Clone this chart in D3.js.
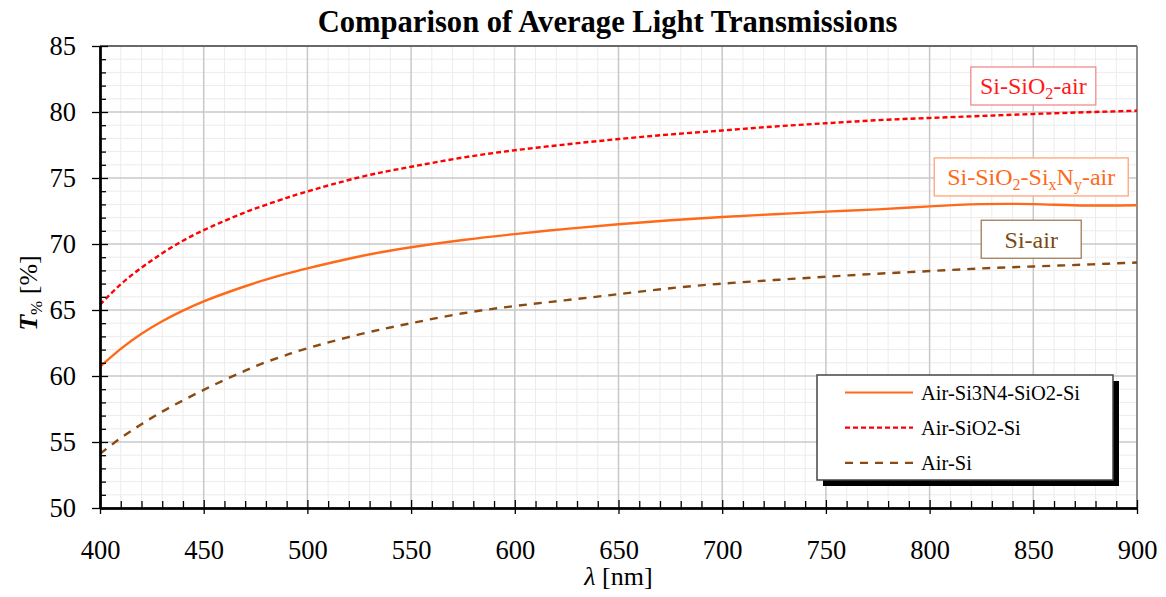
<!DOCTYPE html>
<html>
<head>
<meta charset="utf-8">
<script src="https://cdn.jsdelivr.net/npm/d3@7"></script>
<style>
  html, body { margin: 0; padding: 0; background: #fff; }
  svg { display: block; }
  text { font-family: "Liberation Serif", "Times New Roman", serif; }
</style>
</head>
<body>
<svg id="chart" width="1166" height="597"></svg>
<script>
// Wavelength samples (nm)
const wavelengths = [400, 410, 420, 430, 440, 450, 460, 470, 480, 490, 500,
  525, 550, 575, 600, 625, 650, 675, 700, 725, 750, 775, 800, 825, 850, 875, 900];

// Average transmission (%) for each stack
const airSi3N4SiO2Si = [60.7, 62.05, 63.2, 64.15, 64.95, 65.65, 66.25, 66.8, 67.3, 67.75, 68.15,
  69.05, 69.75, 70.3, 70.75, 71.15, 71.5, 71.8, 72.05, 72.25, 72.45, 72.62, 72.85, 73.02, 73.02, 72.92, 72.93];
const airSiO2Si = [65.4, 66.95, 68.2, 69.3, 70.25, 71.05, 71.75, 72.4, 72.97, 73.5, 73.98,
  75.05, 75.85, 76.55, 77.1, 77.55, 77.95, 78.3, 78.6, 78.9, 79.15, 79.38, 79.55, 79.7, 79.85, 79.98, 80.1];
const airSi = [54.1, 55.3, 56.35, 57.3, 58.15, 58.95, 59.7, 60.4, 61.05, 61.6, 62.1,
  63.15, 64.0, 64.75, 65.3, 65.75, 66.2, 66.65, 67.0, 67.27, 67.52, 67.75, 67.95, 68.15, 68.3, 68.44, 68.6];

const seriesNames = ["Air-Si3N4-SiO2-Si", "Air-SiO2-Si", "Air-Si"];

// Axis ticks
const xTicks = [400, 450, 500, 550, 600, 650, 700, 750, 800, 850, 900];
const yTicks = [50, 55, 60, 65, 70, 75, 80, 85];

const svg = d3.select("#chart");
const W = 1166, H = 597;
const m = { left: 100, right: 29, top: 46, bottom: 89 };

svg.append("rect").attr("width", W).attr("height", H).attr("fill", "#fff");

const x = d3.scaleLinear().domain([400, 900]).range([m.left, W - m.right]);
const y = d3.scaleLinear().domain([50, 85]).range([H - m.bottom, m.top]);

const xMinor = d3.range(400, 901, 10);
const yMinor = d3.range(50, 85.01, 1);

const grid = svg.append("g");
// minor grid
grid.selectAll(".vx").data(xMinor.filter(v => v % 50 !== 0)).join("line")
  .attr("x1", d => x(d)).attr("x2", d => x(d))
  .attr("y1", y(50)).attr("y2", y(85))
  .attr("stroke", "#ececec").attr("stroke-width", 1);
grid.selectAll(".hy").data(yMinor.filter(v => v % 5 !== 0)).join("line")
  .attr("x1", x(400)).attr("x2", x(900))
  .attr("y1", d => y(d)).attr("y2", d => y(d))
  .attr("stroke", "#ececec").attr("stroke-width", 1);
// major grid
svg.append("g").selectAll("line").data(xTicks).join("line")
  .attr("x1", d => x(d)).attr("x2", d => x(d))
  .attr("y1", y(50)).attr("y2", y(85))
  .attr("stroke", "#c8c8c8").attr("stroke-width", 1.5);
svg.append("g").selectAll("line").data(yTicks).join("line")
  .attr("x1", x(400)).attr("x2", x(900))
  .attr("y1", d => y(d)).attr("y2", d => y(d))
  .attr("stroke", "#c8c8c8").attr("stroke-width", 1.5);

// frame top / right
svg.append("line").attr("x1", x(400)).attr("x2", x(900)).attr("y1", y(85)).attr("y2", y(85))
  .attr("stroke", "#444").attr("stroke-width", 1.5);
svg.append("line").attr("x1", x(900)).attr("x2", x(900)).attr("y1", y(85)).attr("y2", y(50))
  .attr("stroke", "#777").attr("stroke-width", 1.5);

// curves
const series = [
  { name: seriesNames[0], values: airSi3N4SiO2Si, color: "#ff6a1a", dash: null },
  { name: seriesNames[1], values: airSiO2Si, color: "#ff0000", dash: "5,3" },
  { name: seriesNames[2], values: airSi, color: "#8b4a12", dash: "8,7" }
];

const line = d3.line().x(d => x(d[0])).y(d => y(d[1])).curve(d3.curveNatural);

series.forEach(s => {
  svg.append("path")
    .datum(wavelengths.map((w, i) => [w, s.values[i]]))
    .attr("fill", "none")
    .attr("stroke", s.color)
    .attr("stroke-width", 2.4)
    .attr("stroke-dasharray", s.dash)
    .attr("d", line);
});

// axes
const tickFont = "26.5px";
const yAxis = svg.append("g").attr("transform", `translate(${x(400)},0)`)
  .call(d3.axisLeft(y).tickValues(yTicks).tickSize(8).tickSizeOuter(0).tickPadding(16));
const yIn = svg.append("g").attr("transform", `translate(${x(400)},0)`)
  .call(d3.axisLeft(y).tickValues(yTicks).tickSize(-8).tickSizeOuter(0).tickFormat(""));
const yMin = svg.append("g").attr("transform", `translate(${x(400)},0)`)
  .call(d3.axisLeft(y).tickValues(yMinor.filter(v => v % 5 !== 0)).tickSize(-6).tickSizeOuter(0).tickFormat(""));

const xAxis = svg.append("g").attr("transform", `translate(0,${y(50)})`)
  .call(d3.axisBottom(x).tickValues(xTicks).tickSize(6).tickSizeOuter(0).tickPadding(26));
const xIn = svg.append("g").attr("transform", `translate(0,${y(50)})`)
  .call(d3.axisBottom(x).tickValues(xTicks).tickSize(-8).tickSizeOuter(0).tickFormat(""));
const xMin = svg.append("g").attr("transform", `translate(0,${y(50)})`)
  .call(d3.axisBottom(x).tickValues(xMinor.filter(v => v % 50 !== 0)).tickSize(-7).tickSizeOuter(0).tickFormat(""));

[yAxis, yIn, yMin, xAxis, xIn, xMin].forEach(g => {
  g.selectAll(".tick line").attr("stroke", "#000").attr("stroke-width", 1.3);
  g.select(".domain").attr("stroke", "#000").attr("stroke-width", 2);
  g.selectAll("text").attr("font-family", "Liberation Serif").attr("font-size", tickFont).attr("fill", "#000");
});

// title
svg.append("text")
  .attr("x", (x(400) + x(900)) / 2 - 11).attr("y", 31.5)
  .attr("text-anchor", "middle")
  .attr("font-weight", "bold").attr("font-size", "30.6px")
  .text("Comparison of Average Light Transmissions");

// x axis title
const xt = svg.append("text")
  .attr("x", (x(400) + x(900)) / 2).attr("y", 585)
  .attr("text-anchor", "middle").attr("font-size", "26px");
xt.append("tspan").attr("font-style", "italic").text("λ");
xt.append("tspan").text(" [nm]");

// y axis title
const yt = svg.append("text")
  .attr("transform", `translate(36.5,293) rotate(-90)`)
  .attr("text-anchor", "middle").attr("font-size", "26px");
yt.append("tspan").attr("font-style", "italic").attr("font-weight", "bold").text("T");
yt.append("tspan").attr("font-size", "17px").attr("dy", 5).text("%");
yt.append("tspan").attr("dy", -5).text(" [%]");

// curve annotations
const notes = [
  { at: [850, 81.97], w: 125, color: "#ff1a1a", border: "#f28b8b",
    parts: [["Si-SiO", 0], ["2", 1], ["-air", 0]] },
  { at: [849, 75.08], w: 194, color: "#ff6a1a", border: "#ffa477",
    parts: [["Si-SiO", 0], ["2", 1], ["-Si", 0], ["x", 1], ["N", 0], ["y", 1], ["-air", 0]] },
  { at: [849, 70.36], w: 100, color: "#7b4a12", border: "#a07c58",
    parts: [["Si-air", 0]] }
];
notes.forEach(n => {
  const cx = x(n.at[0]), cy = y(n.at[1]);
  svg.append("rect")
    .attr("x", cx - n.w / 2).attr("y", cy - 19).attr("width", n.w).attr("height", 38)
    .attr("fill", "#fff").attr("stroke", n.border).attr("stroke-width", 1.3);
  const t = svg.append("text").attr("x", cx).attr("y", cy + 8.5)
    .attr("text-anchor", "middle").attr("font-size", "24px").attr("fill", n.color);
  let shifted = 0;
  n.parts.forEach(([s, sub]) => {
    const shift = sub ? 5 : 0;
    t.append("tspan").attr("dy", shift - shifted)
      .attr("font-size", sub ? "16px" : "24px").text(s);
    shifted = shift;
  });
});

// legend
const lx = x(900) - 320, ly = y(50) - 133, lw = 296, lh = 105;
svg.append("rect").attr("x", lx + 6).attr("y", ly + 6).attr("width", lw).attr("height", lh).attr("fill", "#000");
svg.append("rect").attr("x", lx).attr("y", ly).attr("width", lw).attr("height", lh)
  .attr("fill", "#fff").attr("stroke", "#444").attr("stroke-width", 1.5);
series.forEach((s, i) => {
  const ry = ly + 17.5 + i * 35.2;
  svg.append("line").attr("x1", lx + 28).attr("x2", lx + 96).attr("y1", ry).attr("y2", ry)
    .attr("stroke", s.color).attr("stroke-width", 2.2).attr("stroke-dasharray", s.dash);
  svg.append("text").attr("x", lx + 104).attr("y", ry + 7)
    .attr("font-size", "20.5px").attr("fill", "#000").text(s.name);
});
</script>
</body>
</html>
